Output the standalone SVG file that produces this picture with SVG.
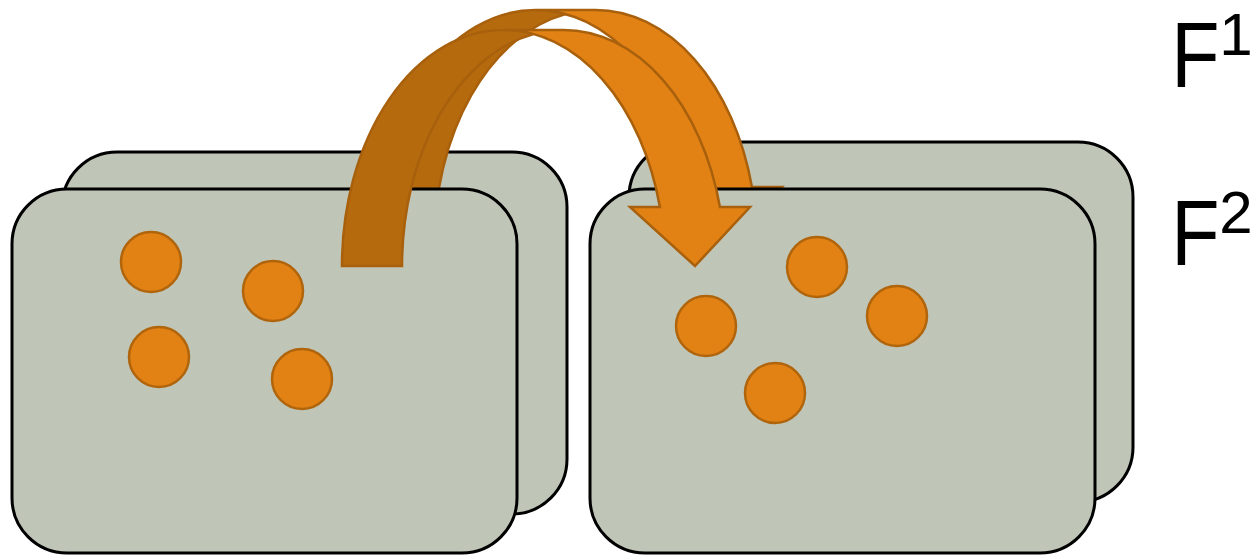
<svg xmlns="http://www.w3.org/2000/svg" width="1256" height="559" viewBox="0 0 1256 559">
  <defs>
    <style>
      .panel { fill: #BFC5B7; stroke: #000000; stroke-width: 3; }
      .dot { fill: #E38214; stroke: #B0650C; stroke-width: 2.5; }
      .dark { fill: #B56A0E; stroke: none; }
      .light { fill: #E38214; stroke: none; }
      .outline { fill: none; stroke: #A8600C; stroke-width: 2.5; stroke-linejoin: miter; }
      .lbl { font-family: "Liberation Sans", Arial, sans-serif; fill: #000000; }
      .big { font-size: 93px; }
      .sup { font-size: 60px; }
    </style>
    <g id="arrowShape">
      <path class="light" d="M695,266 L630,207 L659.9,207 A161.5,236 0 0 0 503.5,30 L563.5,30 A161.5,236 0 0 1 719.9,207 L750,207 Z"/>
      <path class="dark" d="M342,266 A161.5,236 0 0 1 503.5,30 A161.5,236 0 0 1 533.5,34.1 A161.5,236 0 0 0 402,266 Z"/>
      <path class="outline" d="M533.5,34.1 A161.5,236 0 0 0 402,266 L342,266 A161.5,236 0 0 1 503.5,30 L563.5,30 A161.5,236 0 0 1 719.9,207 L750,207 L695,266 L630,207 L659.9,207 A161.5,236 0 0 0 503.5,30"/>
    </g>
  </defs>
  <rect width="1256" height="559" fill="#FFFFFF"/>

  <!-- back frame F1 -->
  <g id="panel-left-back"><rect class="panel" x="62" y="152" width="505" height="362" rx="55" ry="55"/></g>
  <g id="panel-right-back"><rect class="panel" x="629" y="142" width="504" height="360" rx="55" ry="55"/></g>

  <g id="connectors-back">
    <use href="#arrowShape" transform="translate(32,-20)"/>
  </g>

  <!-- front frame F2 -->
  <g id="panel-left-front">
    <rect class="panel" x="12" y="189" width="505" height="364" rx="55" ry="55"/>
    <circle class="dot" cx="151" cy="262" r="30"/>
    <circle class="dot" cx="273" cy="291" r="30"/>
    <circle class="dot" cx="159" cy="357" r="30"/>
    <circle class="dot" cx="302" cy="379" r="30"/>
  </g>
  <g id="panel-right-front">
    <rect class="panel" x="590" y="189" width="505" height="364" rx="55" ry="55"/>
    <circle class="dot" cx="817" cy="267" r="30"/>
    <circle class="dot" cx="706" cy="326" r="30"/>
    <circle class="dot" cx="897" cy="316" r="30"/>
    <circle class="dot" cx="775" cy="393" r="30"/>
  </g>

  <g id="connectors-front">
    <use href="#arrowShape"/>
  </g>

  <g id="label-F1">
    <text class="lbl big" transform="translate(1178,87) scale(0.85,1)" x="-8" y="0">F</text>
    <text class="lbl sup" x="1236" y="55" text-anchor="middle">1</text>
  </g>
  <g id="label-F2">
    <text class="lbl big" transform="translate(1178,265) scale(0.85,1)" x="-8" y="0">F</text>
    <text class="lbl sup" x="1236" y="233" text-anchor="middle">2</text>
  </g>
</svg>
